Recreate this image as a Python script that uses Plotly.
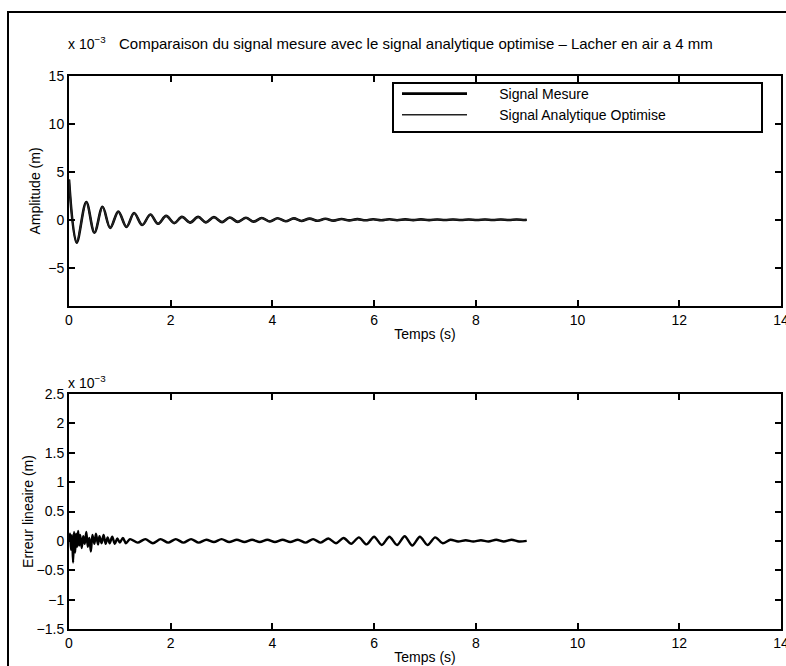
import plotly.graph_objects as go

# ---------------- data (amplitudes in units of 1e-3 m) ----------------
t_signal = [0.00, 0.15, 0.34, 0.50, 0.66, 0.81, 0.97, 1.13, 1.28, 1.44, 1.60, 1.75,
            1.91, 2.07, 2.22, 2.38, 2.54, 2.69, 2.85, 3.01, 3.16, 3.32, 3.48, 3.63,
            3.79, 3.95, 4.10, 4.26, 4.42, 4.57, 4.73, 4.89, 5.04, 5.20, 5.36, 5.51,
            5.67, 5.83, 5.98, 6.14, 6.30, 6.45, 6.61, 6.77, 6.92, 7.08, 7.24, 7.39,
            7.55, 7.71, 7.86, 8.02, 8.18, 8.33, 8.49, 8.65, 8.80, 8.96, 9.00]
signal_mesure = [4.2, -2.4, 1.85, -1.35, 1.35, -0.85, 0.85, -0.75, 0.7, -0.55, 0.55, -0.42,
                 0.4, -0.35, 0.3, -0.3, 0.3, -0.27, 0.27, -0.25, 0.24, -0.22, 0.21, -0.2,
                 0.19, -0.18, 0.16, -0.15, 0.14, -0.13, 0.12, -0.11, 0.10, -0.09, 0.08, -0.07,
                 0.07, -0.06, 0.06, -0.05, 0.05, -0.05, 0.04, -0.04, 0.04, -0.04, 0.03, -0.03,
                 0.03, -0.03, 0.03, -0.03, 0.03, -0.02, 0.02, -0.02, 0.02, -0.02, 0.0]
signal_analytique = [4.2, -2.35, 1.82, -1.33, 1.32, -0.86, 0.84, -0.73, 0.69, -0.55, 0.54, -0.43,
                     0.4, -0.34, 0.31, -0.29, 0.29, -0.27, 0.26, -0.24, 0.23, -0.22, 0.21, -0.19,
                     0.18, -0.17, 0.16, -0.15, 0.14, -0.13, 0.12, -0.11, 0.10, -0.09, 0.08, -0.08,
                     0.07, -0.06, 0.06, -0.05, 0.05, -0.05, 0.04, -0.04, 0.04, -0.03, 0.03, -0.03,
                     0.03, -0.03, 0.03, -0.03, 0.02, -0.02, 0.02, -0.02, 0.02, -0.02, 0.0]

t_erreur = [0.00, 0.02, 0.04, 0.06, 0.08, 0.10, 0.12, 0.14, 0.16, 0.18, 0.20, 0.22,
            0.25, 0.28, 0.31, 0.34, 0.37, 0.40, 0.43, 0.46, 0.50, 0.53, 0.57, 0.60,
            0.64, 0.68, 0.72, 0.76, 0.80, 0.85, 0.90, 0.95, 1.00, 1.06, 1.12, 1.20,
            1.35, 1.50, 1.65, 1.80, 1.95, 2.10, 2.25, 2.40, 2.55, 2.70, 2.85, 3.00,
            3.15, 3.30, 3.45, 3.60, 3.75, 3.90, 4.05, 4.20, 4.35, 4.50, 4.65, 4.80,
            4.95, 5.10, 5.25, 5.40, 5.55, 5.70, 5.85, 6.00, 6.15, 6.30, 6.45, 6.60,
            6.75, 6.90, 7.05, 7.20, 7.35, 7.50, 7.65, 7.80, 7.95, 8.10, 8.25, 8.40,
            8.55, 8.70, 8.85, 9.00]
erreur = [0.0, 0.12, -0.15, 0.1, -0.37, 0.15, -0.2, 0.12, -0.1, 0.17, -0.08, 0.1,
          -0.12, 0.08, -0.05, 0.15, -0.1, 0.05, -0.18, 0.1, -0.05, 0.12, -0.06, 0.08,
          -0.04, 0.1, -0.05, 0.06, -0.04, 0.07, -0.05, 0.04, -0.03, 0.05, -0.04, 0.03,
          -0.03, 0.03, -0.04, 0.03, -0.03, 0.03, -0.03, 0.03, -0.03, 0.02, -0.02, 0.03,
          -0.02, 0.02, -0.02, 0.02, -0.02, 0.02, -0.02, 0.02, -0.02, 0.02, -0.03, 0.03,
          -0.03, 0.04, -0.04, 0.05, -0.05, 0.06, -0.06, 0.07, -0.07, 0.07, -0.07, 0.08,
          -0.08, 0.07, -0.07, 0.06, -0.04, 0.02, -0.01, 0.01, -0.01, 0.01, -0.01, 0.02,
          -0.01, 0.02, -0.01, 0.0]

x_ticks = [0, 2, 4, 6, 8, 10, 12, 14]
y_ticks_top = [-5, 0, 5, 10, 15]
y_ticks_bottom = [-1.5, -1, -0.5, 0, 0.5, 1, 1.5, 2, 2.5]

# ---------------- layout helpers ----------------
W, H = 786, 666
def px_x(p):
    return p / W
def px_y(p):
    return 1 - p / H

FONT = "Liberation Sans, Arial, sans-serif"
TICK = 14
LAB = 14
axis_common = dict(
    showline=True, linecolor="black", linewidth=2, mirror="ticks",
    ticks="inside", ticklen=6, tickwidth=1.5, tickcolor="black",
    showgrid=False, zeroline=False, ticklabeloverflow="allow", automargin=False,
    tickfont=dict(family=FONT, size=TICK, color="black"),
)

fig = go.Figure()
fig.add_trace(go.Scatter(x=t_signal, y=signal_mesure, mode="lines",
                         name="\u00a0\u00a0\u00a0\u00a0\u00a0\u00a0\u00a0Signal Mesure",
                         line=dict(color="black", width=2.6, shape="spline", smoothing=1.0),
                         xaxis="x", yaxis="y"))
fig.add_trace(go.Scatter(x=t_signal, y=signal_analytique, mode="lines",
                         name="\u00a0\u00a0\u00a0\u00a0\u00a0\u00a0\u00a0Signal Analytique Optimise",
                         line=dict(color="#222222", width=1.6, shape="spline", smoothing=1.0),
                         xaxis="x", yaxis="y"))
fig.add_trace(go.Scatter(x=t_erreur, y=erreur, mode="lines", showlegend=False,
                         line=dict(color="black", width=2.4, shape="spline", smoothing=0.8),
                         xaxis="x2", yaxis="y2"))

fig.update_layout(
    width=W, height=H,
    margin=dict(l=0, r=0, t=0, b=0),
    paper_bgcolor="white", plot_bgcolor="white",
    font=dict(family=FONT, size=LAB, color="black"),
    xaxis=dict(domain=[px_x(69), px_x(781)], range=[0, 14], tickvals=x_ticks,
               anchor="y", title=dict(text="Temps (s)", standoff=2,
                                      font=dict(family=FONT, size=LAB)), **axis_common),
    yaxis=dict(domain=[px_y(306), px_y(76)], range=[-9, 15], tickvals=y_ticks_top,
               anchor="x", title=dict(text="Amplitude (m)", standoff=4,
                                      font=dict(family=FONT, size=LAB)), **axis_common),
    xaxis2=dict(domain=[px_x(69), px_x(781)], range=[0, 14], tickvals=x_ticks,
                anchor="y2", title=dict(text="Temps (s)", standoff=2,
                                        font=dict(family=FONT, size=LAB)), **axis_common),
    yaxis2=dict(domain=[px_y(629), px_y(394)], range=[-1.5, 2.5], tickvals=y_ticks_bottom,
                anchor="x2", title=dict(text="Erreur lineaire (m)", standoff=0,
                                        font=dict(family=FONT, size=LAB)), **axis_common),
    legend=dict(x=px_x(397), y=px_y(78), xanchor="left", yanchor="top",
                bgcolor="rgba(0,0,0,0)", borderwidth=0,
                font=dict(family=FONT, size=14, color="black"),
                itemwidth=65, tracegroupgap=0),
    showlegend=True,
)

fig.add_annotation(xref="paper", yref="paper", x=px_x(416), y=px_y(43),
                   text="Comparaison du signal mesure avec le signal analytique optimise \u2013 Lacher en air a 4 mm",
                   showarrow=False, xanchor="center", yanchor="middle",
                   font=dict(family=FONT, size=15, color="black"))
fig.add_annotation(xref="paper", yref="paper", x=px_x(66), y=px_y(43),
                   text="x 10<sup>\u22123</sup>", showarrow=False, xanchor="left", yanchor="middle",
                   font=dict(family=FONT, size=14, color="black"))
fig.add_annotation(xref="paper", yref="paper", x=px_x(66), y=px_y(382),
                   text="x 10<sup>\u22123</sup>", showarrow=False, xanchor="left", yanchor="middle",
                   font=dict(family=FONT, size=14, color="black"))

# legend box (MATLAB style)
fig.add_shape(type="rect", xref="paper", yref="paper",
              x0=px_x(393), y0=px_y(132), x1=px_x(762), y1=px_y(83),
              line=dict(color="black", width=2), fillcolor="white", layer="below")
# outer figure frame
fig.add_shape(type="rect", xref="paper", yref="paper",
              x0=px_x(8), y0=px_y(700), x1=px_x(800), y1=px_y(12),
              line=dict(color="black", width=2), layer="below")

fig.write_html("out.html", config={"displayModeBar": False},
               post_script="document.body.style.margin='0px';")
